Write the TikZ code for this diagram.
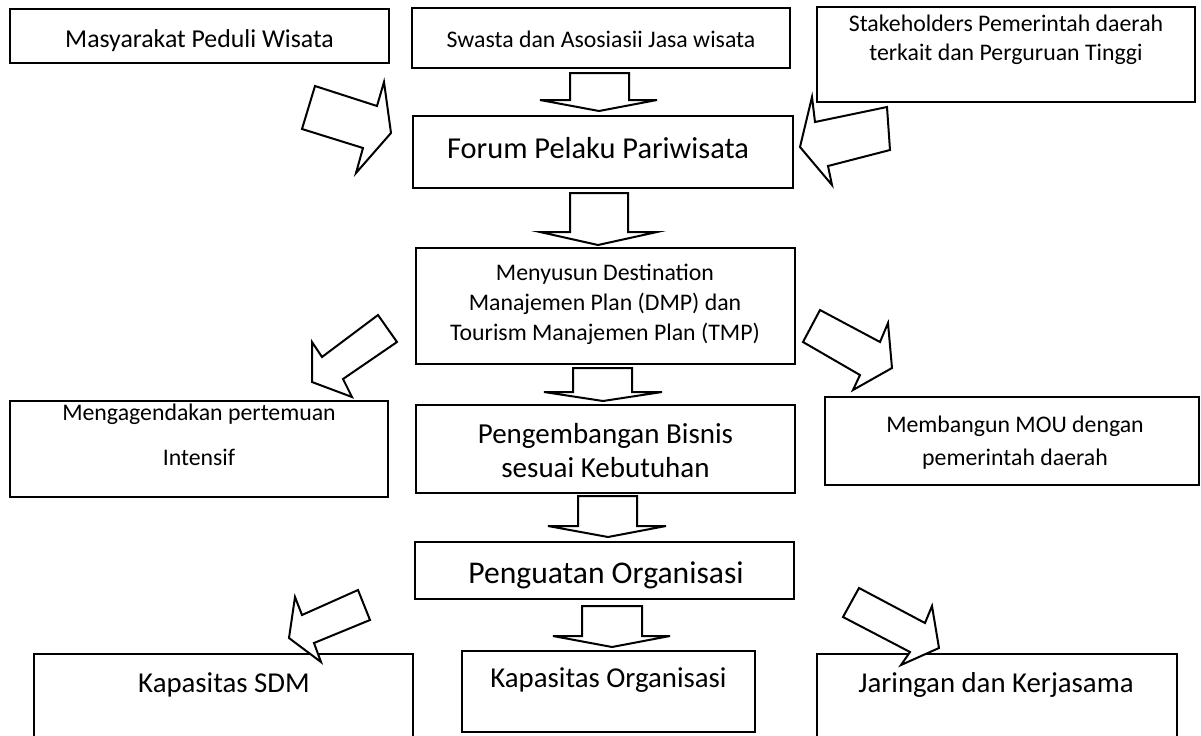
\documentclass[tikz,border=0pt]{standalone}
\usepackage{fontspec}
\setmainfont{Carlito}
\newcommand\mybox[5]{\node[box, minimum width={(#4-#2)*0.5pt}, minimum height={(#5-#3)*0.5pt}] (#1) at ({(#2+#4)/2},{(#3+#5)/2}) {};}
\begin{document}
\begin{tikzpicture}[x=0.5pt,y=-0.5pt,
  box/.style={draw=black, line width=1pt, fill=white, inner sep=0pt, outer sep=0pt},
  barrow/.style={draw=black, line width=1pt, fill=white, line join=miter},
  lbl/.style={anchor=base, inner sep=0pt, text=black},
  fa/.style={font={\fontsize{11.9}{14}\selectfont}},
  fb/.style={font={\fontsize{12.9}{15}\selectfont}},
  fc/.style={font={\fontsize{15.2}{18}\selectfont}},
  fd/.style={font={\fontsize{14.5}{17}\selectfont}},
  fe/.style={font={\fontsize{15.8}{19}\selectfont}},
  ff/.style={font={\fontsize{14.4}{17}\selectfont}}]
\clip (0,0) rectangle (1201,735);
\fill[white] (0,0) rectangle (1201,735);

% boxes
\mybox{masy}{10}{9}{389}{63}
\mybox{swasta}{412}{8}{790}{68}
\mybox{stake}{817}{7}{1195}{102}
\mybox{forum}{413}{116}{793}{188}
\mybox{dmp}{416}{248}{795}{364}
\mybox{bisnis}{416}{405}{795}{493}
\mybox{agenda}{10}{401}{388}{497}
\mybox{mou}{825}{397}{1199}{485}
\mybox{kuat}{415}{542}{794}{599}
\mybox{sdm}{34}{654}{413}{750}
\mybox{korg}{462}{651}{755}{732}
\mybox{jar}{817}{654}{1177}{750}

% texts
\node[lbl,fb] (t-masy) at (199.5,47) {Masyarakat Peduli Wisata};
\node[lbl,fa] (t-swasta) at (601,47) {Swasta dan Asosiasii Jasa wisata};
\node[lbl,fa] (t-stake1) at (1006,31) {Stakeholders Pemerintah daerah};
\node[lbl,fa] (t-stake2) at (1006,60) {terkait dan Perguruan Tinggi};
\node[lbl,fc] (t-forum) at (598,158) {Forum Pelaku Pariwisata};
\node[lbl,fa] (t-dmp1) at (605,280) {Menyusun Destination};
\node[lbl,fa] (t-dmp2) at (605,310) {Manajemen Plan (DMP) dan};
\node[lbl,fa] (t-dmp3) at (605,340) {Tourism Manajemen Plan (TMP)};
\node[lbl,fd] (t-bis1) at (605.5,443) {Pengembangan Bisnis};
\node[lbl,fd] (t-bis2) at (605.5,477) {sesuai Kebutuhan};
\node[lbl,fa] (t-ag1) at (199,420) {Mengagendakan pertemuan};
\node[lbl,fa] (t-ag2) at (199,465) {Intensif};
\node[lbl,fa] (t-mou1) at (1015,432) {Membangun MOU dengan};
\node[lbl,fa] (t-mou2) at (1015,465) {pemerintah daerah};
\node[lbl,fe] (t-kuat) at (606,583) {Penguatan Organisasi};
\node[lbl,ff] (t-sdm) at (224,692) {Kapasitas SDM};
\node[lbl,ff] (t-korg) at (608.5,687) {Kapasitas Organisasi};
\node[lbl,ff] (t-jar) at (996,692) {Jaringan dan Kerjasama};

% straight block arrows
\draw[barrow] (570,73) -- (629,73) -- (629,100) -- (657,100) -- (599,111) -- (540,100) -- (570,100) -- cycle;
\draw[barrow] (570,193) -- (628,193) -- (628,232) -- (657,232) -- (598,245) -- (540,232) -- (570,232) -- cycle;
\draw[barrow] (573,368) -- (632,368) -- (632,392) -- (662,392) -- (603,401) -- (544,392) -- (573,392) -- cycle;
\draw[barrow] (578,496) -- (637,496) -- (637,526) -- (666,526) -- (608,537) -- (548,526) -- (578,526) -- cycle;
\draw[barrow] (582,606) -- (642,606) -- (642,636) -- (670,636) -- (612,647) -- (553,636) -- (582,636) -- cycle;

% diagonal block arrows
\draw[barrow] (315,86) -- (377,106) -- (384,82) -- (391,133) -- (356,173) -- (363,148) -- (302,129) -- cycle;
\draw[barrow] (887,107) -- (815,122) -- (812,97) -- (800,147) -- (832,185) -- (828,166) -- (890,150) -- cycle;
\draw[barrow] (378,315) -- (397,342) -- (343,379) -- (352,397) -- (312,382) -- (312,342) -- (322,357) -- cycle;
\draw[barrow] (820,310) -- (880,342) -- (888,323) -- (892,368) -- (853,390) -- (860,375) -- (803,342) -- cycle;
\draw[barrow] (358,590) -- (370,620) -- (314,643) -- (321,662) -- (289,638) -- (295,597) -- (302,615) -- cycle;
\draw[barrow] (859,588) -- (925,623) -- (932,606) -- (939,648) -- (901,665) -- (910,652) -- (843,617) -- cycle;
\end{tikzpicture}
\end{document}
